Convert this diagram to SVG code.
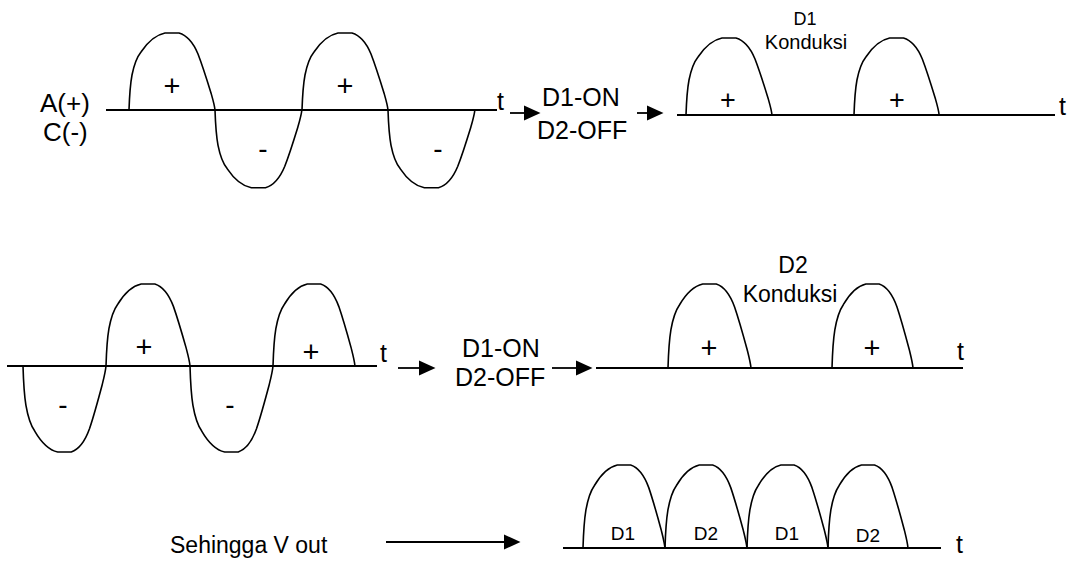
<svg xmlns="http://www.w3.org/2000/svg" xmlns:xlink="http://www.w3.org/1999/xlink" width="1075" height="562" viewBox="0 0 1075 562">
  <style>
    .axis { stroke: #000; stroke-width: 1.8; fill: none; }
    .hump { stroke: #000; stroke-width: 1.6; fill: none; }
    .arrow { stroke: #000; stroke-width: 1.8; fill: none; }
    text { font-family: "Liberation Sans", Arial, sans-serif; fill: #000; }
    .big { font-size: 25px; }
    .mid { font-size: 23px; }
    .small { font-size: 19px; }
    .plus { font-size: 29px; text-anchor: middle; }
    .minus { font-size: 28px; text-anchor: middle; }
    .c { text-anchor: middle; }
  </style>
  <defs>
    <path id="hump" class="hump" vector-effect="non-scaling-stroke"
      d="M0,0 C0.5,-15 1.5,-27 3,-35 C5,-45 8,-53 12,-58 C18,-67 26,-75 36,-77 L50,-77 C57,-75 64,-68 69,-56 C74,-43 78,-30 82,-17 C84,-10 85.5,-5 86,0"/>
    <marker id="head" markerUnits="userSpaceOnUse" markerWidth="17" markerHeight="16" viewBox="0 0 17 16" refX="0" refY="8" orient="auto">
      <path d="M0,0.5 L16.5,8 L0,15.5 Z" fill="#000"/>
    </marker>
  </defs>

  <!-- Top input waveform -->
  <g id="wave-top-input">
    <line class="axis" x1="106" y1="110" x2="497" y2="110"/>
    <use xlink:href="#hump" transform="translate(129,110) scale(1,1)"/>
    <use xlink:href="#hump" transform="translate(215,110) scale(1.01,-1.01)"/>
    <use xlink:href="#hump" transform="translate(302,110) scale(1,1)"/>
    <use xlink:href="#hump" transform="translate(388,110) scale(1.01,-1.01)"/>
    <text class="plus" x="172" y="96">+</text>
    <text class="plus" x="345" y="96">+</text>
    <text class="minus" x="263" y="158">-</text>
    <text class="minus" x="438" y="158">-</text>
    <text class="big" x="497" y="110">t</text>
    <text class="big" x="40" y="112" style="font-size:26px">A(+)</text>
    <text class="big" x="43" y="141" style="font-size:26px">C(-)</text>
  </g>

  <g id="state-top">
    <text class="big" x="542" y="106">D1-ON</text>
    <text class="big" x="537" y="139">D2-OFF</text>
  </g>

  <g id="wave-top-output">
    <line class="axis" x1="677" y1="115" x2="1055" y2="115"/>
    <use xlink:href="#hump" transform="translate(686,115) scale(1,1)"/>
    <use xlink:href="#hump" transform="translate(854,115) scale(0.99,1)"/>
    <text class="plus" x="728" y="109" style="font-size:27px">+</text>
    <text class="plus" x="897" y="109" style="font-size:27px">+</text>
    <text class="small c" x="805" y="25" style="font-size:18px">D1</text>
    <text class="small c" x="806" y="49" style="font-size:20px">Konduksi</text>
    <text class="big" x="1059" y="115">t</text>
  </g>

  <!-- Middle input waveform -->
  <g id="wave-mid-input">
    <line class="axis" x1="7" y1="366" x2="377" y2="366"/>
    <use xlink:href="#hump" transform="translate(23,366) scale(0.965,-1.117)"/>
    <use xlink:href="#hump" transform="translate(106,366) scale(0.977,1.065)"/>
    <use xlink:href="#hump" transform="translate(190,366) scale(0.965,-1.117)"/>
    <use xlink:href="#hump" transform="translate(273,366) scale(0.953,1.065)"/>
    <text class="plus" x="144" y="357">+</text>
    <text class="plus" x="311" y="362">+</text>
    <text class="minus" x="63" y="414">-</text>
    <text class="minus" x="230" y="414">-</text>
    <text class="big" x="380" y="362">t</text>
  </g>

  <g id="state-mid">
    <text class="big" x="462" y="357">D1-ON</text>
    <text class="big" x="455" y="386">D2-OFF</text>
  </g>

  <g id="wave-mid-output">
    <line class="axis" x1="596" y1="368" x2="963" y2="368"/>
    <use xlink:href="#hump" transform="translate(668,368) scale(0.965,1.091)"/>
    <use xlink:href="#hump" transform="translate(832,368) scale(0.942,1.091)"/>
    <text class="plus" x="709" y="358">+</text>
    <text class="plus" x="872" y="358">+</text>
    <text class="mid c" x="793" y="273">D2</text>
    <text class="mid c" x="790" y="302">Konduksi</text>
    <text class="big" x="957" y="360">t</text>
  </g>

  <!-- Bottom result -->
  <g id="label-result">
    <text class="mid" x="170" y="553">Sehingga V out</text>
  </g>

  <g id="wave-result">
    <line class="axis" x1="563" y1="548" x2="941" y2="548"/>
    <use xlink:href="#hump" transform="translate(583,548) scale(0.953,1.078)"/>
    <use xlink:href="#hump" transform="translate(665,548) scale(0.953,1.078)"/>
    <use xlink:href="#hump" transform="translate(747,548) scale(0.942,1.078)"/>
    <use xlink:href="#hump" transform="translate(828,548) scale(0.93,1.078)"/>
    <text class="small c" x="623" y="540">D1</text>
    <text class="small c" x="706" y="540">D2</text>
    <text class="small c" x="787" y="540">D1</text>
    <text class="small c" x="868" y="542">D2</text>
    <text class="big" x="956" y="553">t</text>
  </g>

  <!-- Connectors -->
  <g id="connectors">
    <line class="arrow" x1="510" y1="113" x2="524" y2="113" marker-end="url(#head)"/>
    <line class="arrow" x1="637" y1="113" x2="647" y2="113" marker-end="url(#head)"/>
    <line class="arrow" x1="398" y1="368" x2="419" y2="368" marker-end="url(#head)"/>
    <line class="arrow" x1="552" y1="368" x2="576" y2="368" marker-end="url(#head)"/>
    <line class="arrow" x1="386" y1="542" x2="504" y2="542" marker-end="url(#head)"/>
  </g>
</svg>
